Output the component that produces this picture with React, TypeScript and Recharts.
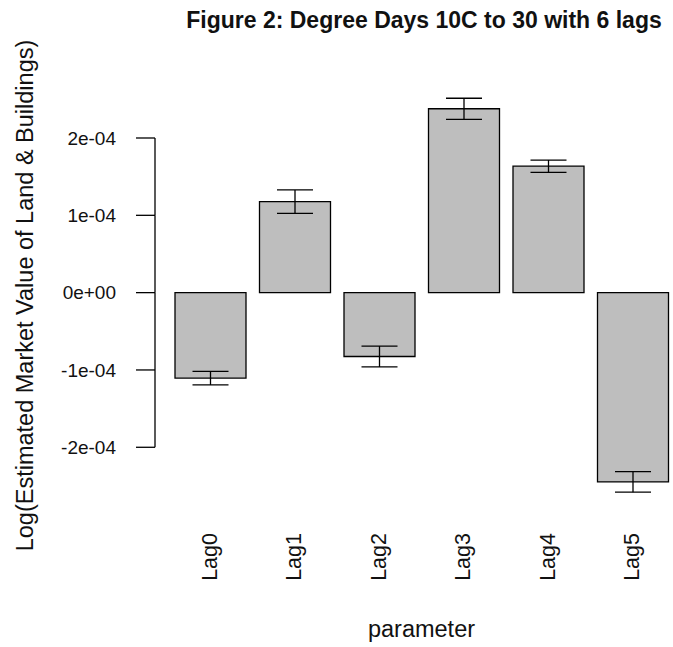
import React from "react";
import { BarChart, Bar, XAxis, YAxis, ErrorBar, Cell } from "recharts";

// values, in units of 1e-4
const categories = ["Lag0", "Lag1", "Lag2", "Lag3", "Lag4", "Lag5"];
const estimates = [-1.105, 1.177, -0.826, 2.378, 1.635, -2.448];
const stdErrors = [0.088, 0.152, 0.135, 0.136, 0.08, 0.132];
const yTicks = [-2e-4, -1e-4, 0, 1e-4, 2e-4];
const yTickLabels = ["-2e-04", "-1e-04", "0e+00", "1e-04", "2e-04"];

const chartData = categories.map((name, i) => ({
  name,
  value: estimates[i] * 1e-4,
  err: stdErrors[i] * 1e-4,
}));

// layout (R base graphics look)
const CHART_W = 698;
const CHART_H = 647;
const MARGIN = { top: 94, right: 10, bottom: 0, left: 0 };
const X_AXIS_H = 150;
const AXIS_X = 155;
const Y_DOMAIN: [number, number] = [-2.643e-4, 2.569e-4];
const PLOT_H = CHART_H - MARGIN.top - MARGIN.bottom - X_AXIS_H;
const PX_PER_STEP = (PLOT_H * 1e-4) / (Y_DOMAIN[1] - Y_DOMAIN[0]);
const FONT = "'Liberation Sans', Arial, Helvetica, sans-serif";

// y tick: tick mark, label, and the axis line piece down to the next tick
const YTick = (props: any) => {
  const { y, payload } = props;
  const v = payload.value;
  const idx = yTicks.findIndex((t) => Math.abs(t - v) < 1e-9);
  const label = idx >= 0 ? yTickLabels[idx] : String(v);
  return (
    <g>
      <line x1={AXIS_X - 19} y1={y} x2={AXIS_X} y2={y} stroke="#000" strokeWidth={1.3} />
      {v > yTicks[0] + 1e-9 && (
        <line x1={AXIS_X} y1={y} x2={AXIS_X} y2={y + PX_PER_STEP} stroke="#000" strokeWidth={1.3} />
      )}
      <text x={116} y={y} dy="0.35em" textAnchor="end" fontSize={19} fill="#111" fontFamily={FONT}>
        {label}
      </text>
    </g>
  );
};

// x tick: label rotated, reading bottom to top
const XTick = (props: any) => {
  const { x, payload } = props;
  const tx = x + 6.5;
  const ty = 533;
  return (
    <text
      x={tx}
      y={ty}
      transform={`rotate(-90 ${tx} ${ty})`}
      textAnchor="end"
      fontSize={21.5}
      fill="#111"
      fontFamily={FONT}
    >
      {payload.value}
    </text>
  );
};

export default function App() {
  return (
    <div
      style={{
        position: "absolute",
        left: 0,
        top: 0,
        width: 673,
        height: 647,
        overflow: "hidden",
        background: "#fff",
      }}
    >
      <svg
        width={673}
        height={647}
        style={{ position: "absolute", left: 0, top: 0, pointerEvents: "none", zIndex: 1 }}
      >
        <text x={424} y={28} textAnchor="middle" fontSize={23} fontWeight="bold" fill="#111" fontFamily={FONT}>
          Figure 2: Degree Days 10C to 30 with 6 lags
        </text>
        <text
          x={33}
          y={295.5}
          transform="rotate(-90 33 295.5)"
          textAnchor="middle"
          fontSize={23.5}
          fill="#111"
          fontFamily={FONT}
        >
          Log(Estimated Market Value of Land &amp; Buildings)
        </text>
        <text x={421.5} y={637} textAnchor="middle" fontSize={23.5} fill="#111" fontFamily={FONT}>
          parameter
        </text>
      </svg>
      <BarChart width={CHART_W} height={CHART_H} data={chartData} margin={MARGIN}>
        <XAxis
          dataKey="name"
          height={X_AXIS_H}
          axisLine={false}
          tickLine={false}
          tick={<XTick />}
          interval={0}
          padding={{ left: 13, right: 13 }}
        />
        <YAxis
          width={AXIS_X}
          domain={Y_DOMAIN}
          allowDataOverflow
          ticks={yTicks}
          interval={0}
          axisLine={false}
          tickLine={false}
          tick={<YTick />}
        />
        <Bar dataKey="value" barSize={71} fill="#bebebe" stroke="#000" strokeWidth={1.3} isAnimationActive={false}>
          {chartData.map((d, i) => (
            <Cell key={`c-${i}`} fill="#bebebe" />
          ))}
          <ErrorBar dataKey="err" width={18} stroke="#000" strokeWidth={1.3} direction="y" />
        </Bar>
      </BarChart>
    </div>
  );
}
